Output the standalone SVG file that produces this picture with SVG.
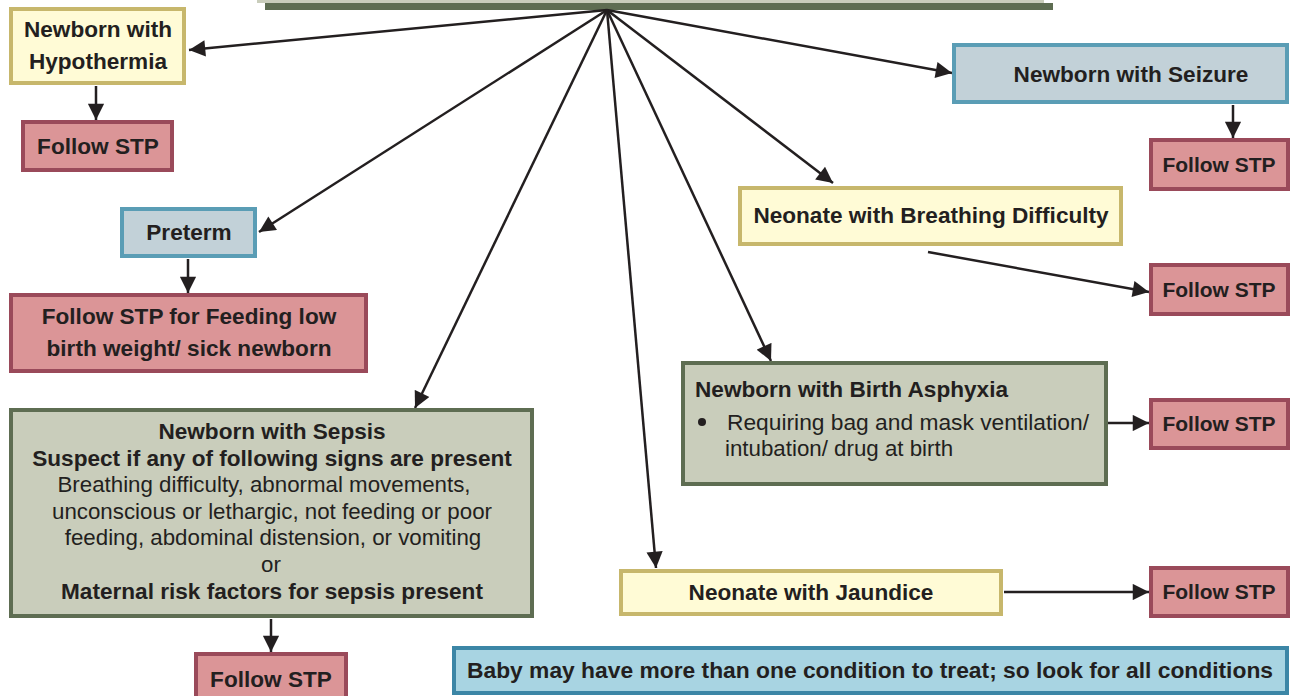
<svg xmlns="http://www.w3.org/2000/svg" width="1291" height="696" viewBox="0 0 1291 696">
<style>
text{font-family:"Liberation Sans",Arial,sans-serif;fill:#231f20;}
.b{font-weight:bold;font-size:22.6px;}
.s{font-size:21px;}
.r{font-size:22.3px;}
.c{text-anchor:middle;}
.yel{fill:#fffbd6;stroke:#c7b76c;stroke-width:4;}
.red{fill:#db9597;stroke:#9a4a5a;stroke-width:4;}
.blu{fill:#c2d1d8;stroke:#5a9db5;stroke-width:4;}
.grn{fill:#c9cdbb;stroke:#5e6d52;stroke-width:4;}
.note{fill:#a8d4e2;stroke:#3c86a6;stroke-width:4;}
.con{stroke:#231f20;stroke-width:2.5;fill:none;marker-end:url(#ah);}
</style>
<defs>
<marker id="ah" viewBox="0 0 10 10" refX="10" refY="5" markerWidth="7" markerHeight="6.5" markerUnits="strokeWidth" orient="auto">
<path d="M0,0 L10,5 L0,10 z" fill="#231f20"/>
</marker>
</defs>
<rect width="1291" height="696" fill="#ffffff"/>
<g id="top">
<rect x="257" y="-10" width="787" height="13" fill="#c9cdbb"/>
<rect x="265" y="3" width="788" height="7" fill="#5e6d52"/>
</g>
<g id="connectors">
<line class="con" x1="607" y1="10" x2="189" y2="50"/>
<line class="con" x1="607" y1="10" x2="952" y2="73"/>
<line class="con" x1="607" y1="10" x2="833" y2="183"/>
<line class="con" x1="607" y1="10" x2="259" y2="232"/>
<line class="con" x1="607" y1="10" x2="415" y2="408"/>
<line class="con" x1="607" y1="10" x2="771" y2="361"/>
<line class="con" x1="607" y1="10" x2="656" y2="568"/>
<line class="con" x1="96" y1="86" x2="96" y2="120"/>
<line class="con" x1="1233" y1="105" x2="1233" y2="138"/>
<line class="con" x1="928" y1="252" x2="1149" y2="292"/>
<line class="con" x1="188" y1="259" x2="188" y2="293"/>
<line class="con" x1="1108" y1="423" x2="1149" y2="423"/>
<line class="con" x1="271" y1="619" x2="271" y2="652"/>
<line class="con" x1="1004" y1="592" x2="1149" y2="592"/>
</g>
<g id="hypothermia">
<rect class="yel" x="11" y="9" width="173" height="74"/>
<text class="b c" x="98" y="37">Newborn with</text>
<text class="b c" x="98" y="69">Hypothermia</text>
</g>
<g id="stp1">
<rect class="red" x="23" y="122" width="149" height="48"/>
<text class="b c" x="98" y="154">Follow STP</text>
</g>
<g id="seizure">
<rect class="blu" x="954" y="45" width="333" height="57"/>
<text class="b c" x="1131" y="82">Newborn with Seizure</text>
</g>
<g id="stp2">
<rect class="red" x="1151" y="140" width="137" height="49"/>
<text class="b s c" x="1219" y="172">Follow STP</text>
</g>
<g id="breathing">
<rect class="yel" x="740" y="188" width="381" height="56"/>
<text class="b c" x="931" y="223">Neonate with Breathing Difficulty</text>
</g>
<g id="stp3">
<rect class="red" x="1151" y="265" width="137" height="49"/>
<text class="b s c" x="1219" y="297">Follow STP</text>
</g>
<g id="preterm">
<rect class="blu" x="122" y="209" width="133" height="47"/>
<text class="b c" x="189" y="240">Preterm</text>
</g>
<g id="feeding">
<rect class="red" x="11" y="295" width="355" height="76"/>
<text class="b c" x="189" y="324">Follow STP for Feeding low</text>
<text class="b c" x="189" y="356">birth weight/ sick newborn</text>
</g>
<g id="asphyxia">
<rect class="grn" x="683" y="363" width="423" height="121"/>
<text class="b" x="695" y="397">Newborn with Birth Asphyxia</text>
<circle cx="702" cy="422" r="4" fill="#231f20"/>
<text class="r" x="727" y="430" textLength="362" lengthAdjust="spacingAndGlyphs">Requiring bag and mask ventilation/</text>
<text class="r" x="725" y="456">intubation/ drug at birth</text>
</g>
<g id="stp4">
<rect class="red" x="1151" y="400" width="137" height="48"/>
<text class="b s c" x="1219" y="431">Follow STP</text>
</g>
<g id="sepsis">
<rect class="grn" x="11" y="410" width="521" height="206"/>
<text class="b c" x="272" y="439">Newborn with Sepsis</text>
<text class="b c" x="272" y="466">Suspect if any of following signs are present</text>
<text class="r c" x="264" y="492">Breathing difficulty, abnormal movements,</text>
<text class="r c" x="272" y="519">unconscious or lethargic, not feeding or poor</text>
<text class="r c" x="273" y="545">feeding, abdominal distension, or vomiting</text>
<text class="r c" x="271" y="572">or</text>
<text class="b c" x="272" y="599">Maternal risk factors for sepsis present</text>
</g>
<g id="stp5">
<rect class="red" x="196" y="654" width="150" height="50"/>
<text class="b c" x="271" y="687">Follow STP</text>
</g>
<g id="jaundice">
<rect class="yel" x="621" y="571" width="380" height="43"/>
<text class="b c" x="811" y="600">Neonate with Jaundice</text>
</g>
<g id="stp6">
<rect class="red" x="1151" y="568" width="137" height="48"/>
<text class="b s c" x="1219" y="599">Follow STP</text>
</g>
<g id="note">
<rect class="note" x="454" y="648" width="833" height="45"/>
<text class="b c" x="870" y="678" textLength="806" lengthAdjust="spacingAndGlyphs">Baby may have more than one condition to treat; so look for all conditions</text>
</g>
</svg>
